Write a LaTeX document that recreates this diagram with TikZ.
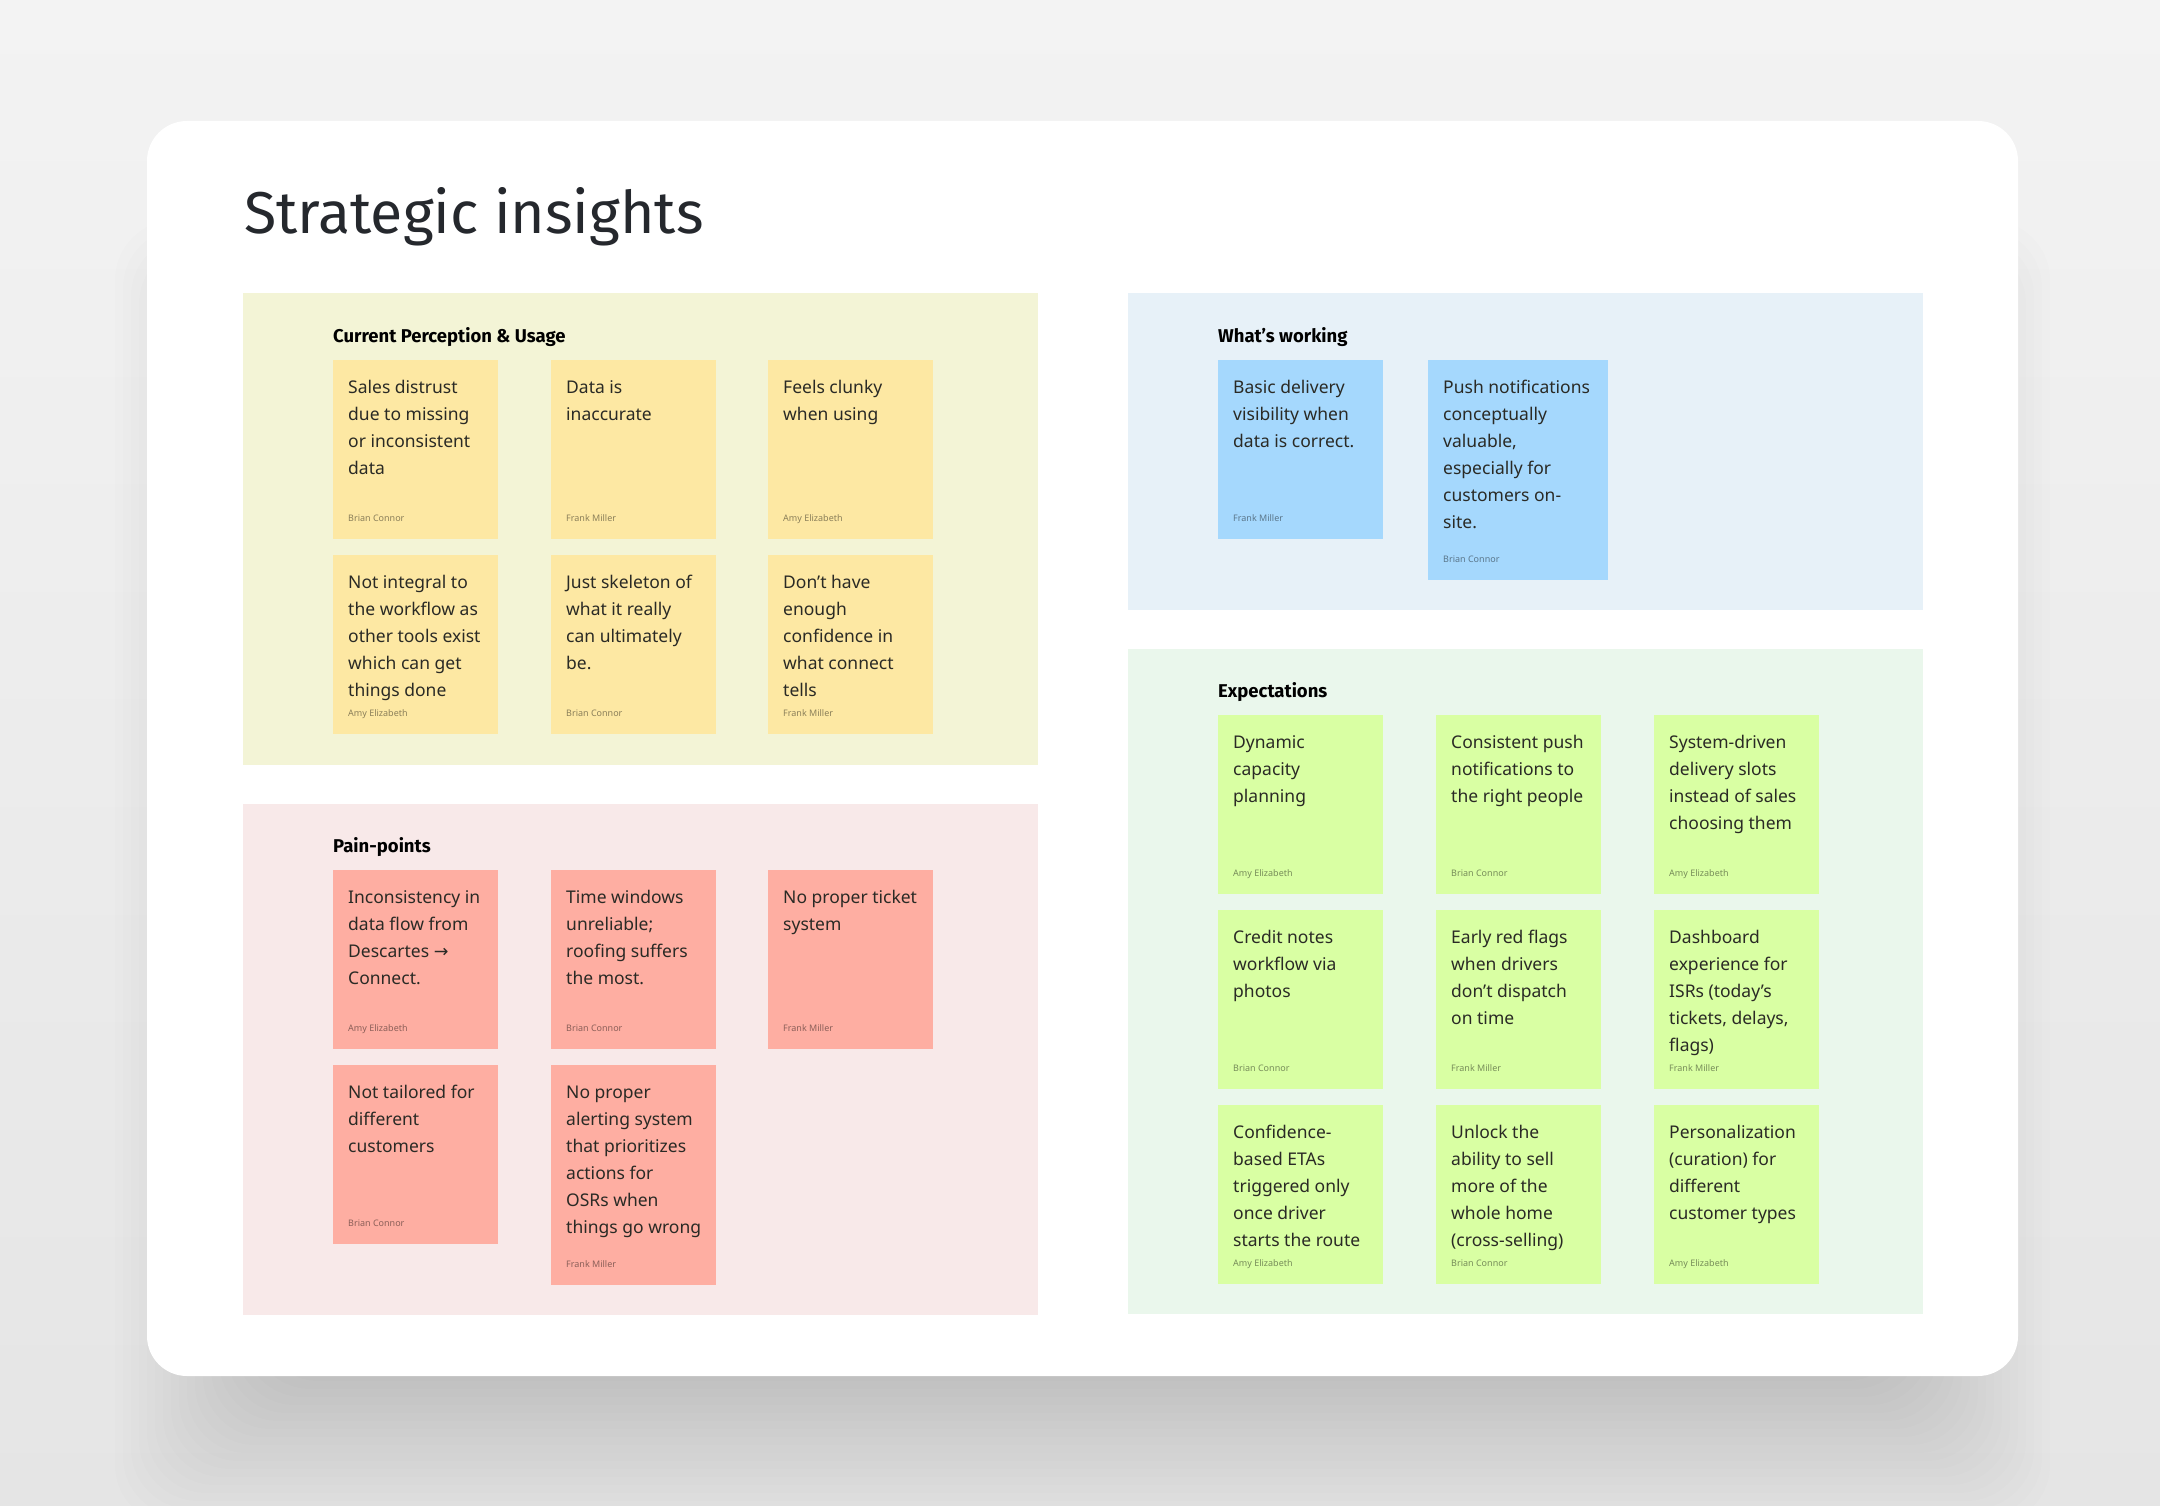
\documentclass[tikz,border=0pt]{standalone}
\usepackage{fontspec}
\setmainfont{Noto Sans}
\newfontfamily\headfont{Fira Sans}
\newfontfamily\arrowfont{DejaVu Sans}
\definecolor{bgtop}{HTML}{F3F3F3}
\definecolor{bgbot}{HTML}{E5E5E5}
\definecolor{panelY}{HTML}{F3F4D6}
\definecolor{noteY}{HTML}{FDE8A3}
\definecolor{panelP}{HTML}{F8E9E9}
\definecolor{noteP}{HTML}{FEAEA2}
\definecolor{panelB}{HTML}{E7F1F8}
\definecolor{noteB}{HTML}{A5D8FD}
\definecolor{panelG}{HTML}{EAF7EC}
\definecolor{noteG}{HTML}{D9FFA3}
\definecolor{titleink}{HTML}{25282D}
\definecolor{bodyink}{HTML}{2A2A25}
\tikzset{
  panelbox/.style={anchor=north west, inner sep=0pt, outer sep=0pt, draw=none, minimum width=795pt},
  stickbox/.style={anchor=north west, inner sep=0pt, outer sep=0pt, draw=none, minimum width=165pt, minimum height=179pt},
  bodytext/.style={anchor=north west, inner sep=0pt, align=left, text=bodyink, font=\fontsize{17.5}{27}\selectfont},
  authortext/.style={anchor=base west, inner sep=0pt, text=black, text opacity=0.45, font=\fontsize{9}{11}\selectfont},
  headtext/.style={anchor=base west, inner sep=0pt, text=black, font=\headfont\bfseries\fontsize{18.5}{22}\selectfont},
}
\newcommand\stickynote[6]{%
  \node[stickbox, #4] (#1) at (#2,#3) {};
  \node[bodytext] (#1t) at ([xshift=15pt,yshift=-19pt]#1.north west) {\rule{0pt}{14pt}#5};
  \node[authortext] (#1a) at ([xshift=15pt,yshift=18pt]#1.south west) {#6};
}
\begin{document}
\begin{tikzpicture}[x=1pt,y=-1pt]
\useasboundingbox (0,0) rectangle (2160,1506);
\shade[top color=bgtop, bottom color=bgbot] (0,0) rectangle (2160,1506);
% shadow
\foreach \i in {0,...,19} {
  \pgfmathsetmacro\d{\i*8-80}
  \fill[black, opacity=0.0065, rounded corners=60pt] (195+\d,300+\d) rectangle (1970-\d,1445-\d);
}
% card
\node[anchor=north west, inner sep=0pt, outer sep=0pt, fill=white, rounded corners=40pt, minimum width=1871pt, minimum height=1255pt] (card) at (147,121) {};
% title
\node[anchor=base west, inner sep=0pt, text=titleink, font=\headfont\fontsize{59}{68}\selectfont] (title) at (244,234) {Strategic insights};
% panels
\node[panelbox, fill=panelY, minimum height=471pt] (panY) at (242.5,293.5) {};
\node[panelbox, fill=panelP, minimum height=511pt] (panP) at (242.5,803.5) {};
\node[panelbox, fill=panelB, minimum height=316pt] (panB) at (1128,293.5) {};
\node[panelbox, fill=panelG, minimum height=665pt] (panG) at (1128,649) {};
% headers
\node[headtext] (hY) at (333,342.5) {Current Perception \& Usage};
\node[headtext] (hP) at (333,852) {Pain-points};
\node[headtext] (hB) at (1218,342.5) {What’s working};
\node[headtext] (hG) at (1218,697) {Expectations};
% yellow notes
\stickynote{y1}{333}{360}{fill=noteY}{Sales distrust\\due to missing\\or inconsistent\\data}{Brian Connor}
\stickynote{y2}{551}{360}{fill=noteY}{Data is\\inaccurate}{Frank Miller}
\stickynote{y3}{768}{360}{fill=noteY}{Feels clunky\\when using}{Amy Elizabeth}
\stickynote{y4}{333}{555}{fill=noteY}{Not integral to\\the workflow as\\other tools exist\\which can get\\things done}{Amy Elizabeth}
\stickynote{y5}{551}{555}{fill=noteY}{Just skeleton of\\what it really\\can ultimately\\be.}{Brian Connor}
\stickynote{y6}{768}{555}{fill=noteY}{Don’t have\\enough\\confidence in\\what connect\\tells}{Frank Miller}
% pink notes
\stickynote{p1}{333}{870}{fill=noteP}{Inconsistency in\\data flow from\\Descartes {\arrowfont →}\\Connect.}{Amy Elizabeth}
\stickynote{p2}{551}{870}{fill=noteP}{Time windows\\unreliable;\\roofing suffers\\the most.}{Brian Connor}
\stickynote{p3}{768}{870}{fill=noteP}{No proper ticket\\system}{Frank Miller}
\stickynote{p4}{333}{1065}{fill=noteP}{Not tailored for\\different\\customers}{Brian Connor}
\stickynote{p5}{551}{1065}{fill=noteP, minimum height=220pt}{No proper\\alerting system\\that prioritizes\\actions for\\OSRs when\\things go wrong}{Frank Miller}
% blue notes
\stickynote{b1}{1218}{360}{fill=noteB}{Basic delivery\\visibility when\\data is correct.}{Frank Miller}
\stickynote{b2}{1428}{360}{fill=noteB, minimum width=180pt, minimum height=220pt}{Push notifications\\conceptually\\valuable,\\especially for\\customers on-\\site.}{Brian Connor}
% green notes
\stickynote{g1}{1218}{715}{fill=noteG}{Dynamic\\capacity\\planning}{Amy Elizabeth}
\stickynote{g2}{1436}{715}{fill=noteG}{Consistent push\\notifications to\\the right people}{Brian Connor}
\stickynote{g3}{1654}{715}{fill=noteG}{System-driven\\delivery slots\\instead of sales\\choosing them}{Amy Elizabeth}
\stickynote{g4}{1218}{910}{fill=noteG}{Credit notes\\workflow via\\photos}{Brian Connor}
\stickynote{g5}{1436}{910}{fill=noteG}{Early red flags\\when drivers\\don’t dispatch\\on time}{Frank Miller}
\stickynote{g6}{1654}{910}{fill=noteG}{Dashboard\\experience for\\ISRs (today’s\\tickets, delays,\\flags)}{Frank Miller}
\stickynote{g7}{1218}{1105}{fill=noteG}{Confidence-\\based ETAs\\triggered only\\once driver\\starts the route}{Amy Elizabeth}
\stickynote{g8}{1436}{1105}{fill=noteG}{Unlock the\\ability to sell\\more of the\\whole home\\(cross-selling)}{Brian Connor}
\stickynote{g9}{1654}{1105}{fill=noteG}{Personalization\\(curation) for\\different\\customer types}{Amy Elizabeth}
\end{tikzpicture}
\end{document}
